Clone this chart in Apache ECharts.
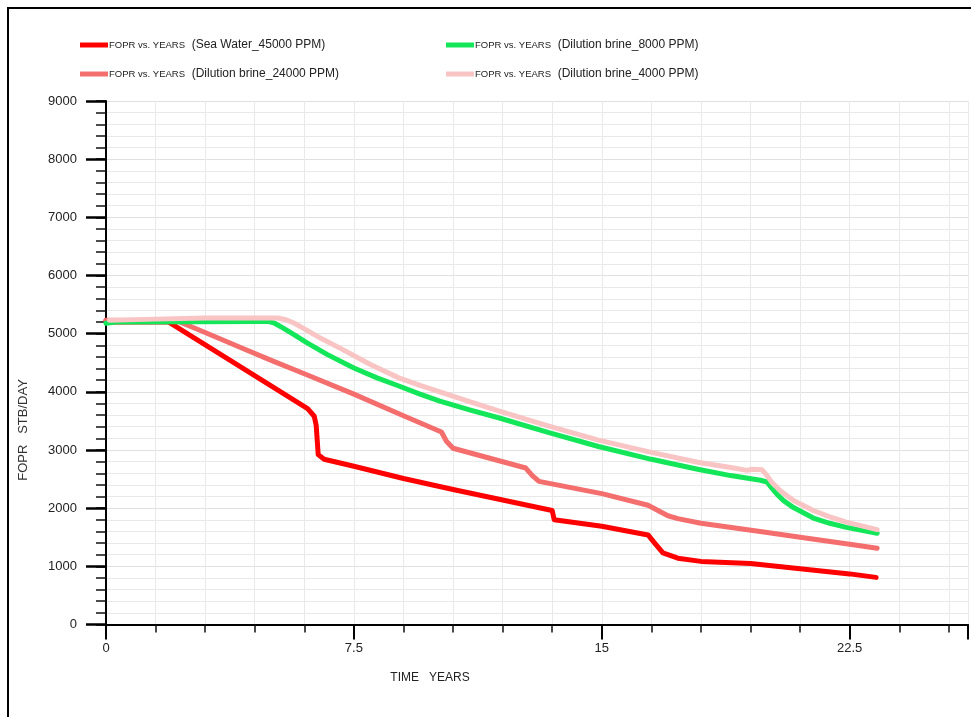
<!DOCTYPE html>
<html>
<head>
<meta charset="utf-8">
<script src="https://cdn.jsdelivr.net/npm/echarts@6/dist/echarts.min.js"></script>
<style>
  html, body { margin: 0; padding: 0; background: #ffffff; }
  #chart { width: 971px; height: 717px; }
</style>
</head>
<body>
<div id="chart"></div>
<script>
// FOPR (field oil production rate, STB/DAY) against time in years, one line per injected brine.
const seriesNames = [
  'FOPR vs. YEARS  (Sea Water_45000 PPM)',
  'FOPR vs. YEARS  (Dilution brine_24000 PPM)',
  'FOPR vs. YEARS  (Dilution brine_8000 PPM)',
  'FOPR vs. YEARS  (Dilution brine_4000 PPM)'
];

// [years, STB/DAY]
const seaWater45000 = [
  [0, 5230], [0.15, 5200], [1.9, 5200], [6.1, 3710], [6.3, 3580], [6.36, 3420],
  [6.42, 2920], [6.6, 2840], [7.5, 2720], [9, 2510], [10.5, 2320], [12, 2140],
  [13.5, 1960], [13.56, 1800], [15, 1690], [16.4, 1540], [16.6, 1400], [16.85, 1230],
  [17.3, 1140], [18, 1085], [19.5, 1050], [21, 960], [22.5, 870], [23.3, 810]
];
const brine24000 = [
  [0, 5230], [2.2, 5210], [3, 5020], [4, 4780], [5, 4540], [6, 4310], [7.5, 3960],
  [9, 3590], [10.15, 3310], [10.3, 3150], [10.5, 3030], [12.7, 2690], [12.9, 2560],
  [13.1, 2460], [15, 2250], [16.4, 2050], [16.7, 1960], [17.0, 1870], [17.3, 1820],
  [18, 1740], [19.9, 1590], [21, 1500], [22.5, 1380], [23.33, 1310]
];
const brine8000 = [
  [0, 5180], [0.3, 5200], [4.9, 5210], [5.1, 5180], [5.35, 5100], [5.7, 4980],
  [6.06, 4850], [6.7, 4640], [7.5, 4410], [8.2, 4240], [8.86, 4100], [9.5, 3960],
  [10.1, 3840], [11, 3690], [11.9, 3550], [13.4, 3300], [14.9, 3060], [16.5, 2840],
  [17.9, 2670], [18.9, 2560], [19.8, 2480], [20.0, 2450], [20.15, 2340], [20.3, 2240],
  [20.5, 2130], [20.8, 2010], [21.4, 1830], [21.9, 1740], [22.4, 1670], [23.33, 1570]
];
const brine4000 = [
  [0.1, 5230], [1.5, 5250], [3, 5270], [5.2, 5270], [5.45, 5240], [5.7, 5180],
  [5.95, 5100], [6.5, 4920], [7.05, 4760], [8, 4470], [8.86, 4240], [9.5, 4110],
  [10.1, 4000], [11, 3830], [11.9, 3670], [13.4, 3410], [14.9, 3170], [16.5, 2960],
  [17.9, 2790], [18.9, 2700], [19.4, 2650], [19.55, 2670], [19.85, 2660], [20.0, 2560],
  [20.15, 2440], [20.4, 2300], [20.8, 2130], [21.4, 1960], [21.9, 1850], [22.4, 1760],
  [23.33, 1630]
];

const xMajorTicks = [0, 7.5, 15, 22.5];

const colors = ['#ff0000', '#f56e6e', '#14e65a', '#f9c4c4'];
const dataSets = [seaWater45000, brine24000, brine8000, brine4000];

const chart = echarts.init(document.getElementById('chart'), null, { renderer: 'canvas' });

const legendRich = {
  a: { fontFamily: 'Liberation Sans, Arial', fontSize: 9.5, color: '#222' },
  b: { fontFamily: 'Liberation Sans, Arial', fontSize: 12, color: '#222' }
};
const legendFormatter = function (name) {
  const i = name.indexOf('(');
  return '{a|' + name.slice(0, i).trim() + '}  {b|' + name.slice(i) + '}';
};
function legendBlock(left, names) {
  return {
    left: left, top: 39, orient: 'vertical', itemGap: 17, padding: 0,
    itemWidth: 28, itemHeight: 5, icon: 'rect',
    data: names, selectedMode: false,
    formatter: legendFormatter,
    textStyle: { rich: legendRich, padding: [0, 0, 0, -4] }
  };
}

const option = {
  backgroundColor: '#ffffff',
  animation: false,
  grid: { left: 106, top: 101, right: 0, bottom: 92.5, containLabel: false },
  legend: [
    legendBlock(80, [seriesNames[0], seriesNames[1]]),
    legendBlock(446, [seriesNames[2], seriesNames[3]])
  ],
  xAxis: [
    {
      type: 'value', min: 0, max: 26.08, interval: 1.5, position: 'bottom',
      axisLine: { show: true, onZero: false, lineStyle: { color: '#000', width: 2 } },
      axisTick: { show: true, length: 8, lineStyle: { color: '#111', width: 1.5 } },
      axisLabel: { show: false },
      splitLine: { show: true, lineStyle: { color: '#e9e9e9', width: 1 } }
    },
    {
      type: 'value', min: 0, max: 26.08, interval: 7.5, position: 'bottom',
      axisLine: { show: false },
      axisTick: { show: true, length: 15, lineStyle: { color: '#000', width: 2 } },
      axisLabel: {
        show: true, margin: 17, color: '#222',
        fontFamily: 'Liberation Sans, Arial', fontSize: 13,
        formatter: function (v) { return xMajorTicks.indexOf(v) >= 0 ? String(v) : ''; }
      },
      splitLine: { show: false }
    }
  ],
  yAxis: [
    {
      type: 'value', min: 0, max: 9000, interval: 200, position: 'left',
      axisLine: { show: true, onZero: false, lineStyle: { color: '#000', width: 2 } },
      axisTick: { show: true, length: 10, lineStyle: { color: '#111', width: 1.5 } },
      axisLabel: { show: false },
      splitLine: { show: true, lineStyle: { color: '#e9e9e9', width: 1 } }
    },
    {
      type: 'value', min: 0, max: 9000, interval: 1000, position: 'left',
      axisLine: { show: false },
      axisTick: { show: true, length: 20, lineStyle: { color: '#000', width: 2.5 } },
      axisLabel: {
        show: true, margin: 29, color: '#222',
        fontFamily: 'Liberation Sans, Arial', fontSize: 13,
        formatter: function (v) { return String(v); }
      },
      splitLine: { show: true, lineStyle: { color: '#e0e0e0', width: 1.2 } }
    }
  ],
  series: dataSets.map(function (d, i) {
    return {
      name: seriesNames[i], type: 'line', data: d,
      xAxisIndex: 0, yAxisIndex: 0,
      showSymbol: false, smooth: false,
      color: colors[i],
      lineStyle: { color: colors[i], width: 5, join: 'round', cap: 'round' },
      z: 2 + i
    };
  }),
  graphic: [
    // outer frame (top and left edges)
    { type: 'polyline', silent: true, shape: { points: [[8, 717], [8, 8], [971, 8]] },
      style: { stroke: '#000', lineWidth: 2, fill: null } },
    { type: 'text', silent: true, x: 23, y: 430, rotation: Math.PI / 2,
      style: { text: 'FOPR   STB/DAY', fill: '#333', font: '13px "Liberation Sans", Arial',
               textAlign: 'center', textVerticalAlign: 'middle' } },
    { type: 'text', silent: true, x: 430, y: 678,
      style: { text: 'TIME   YEARS', fill: '#222',
               font: '12px "Liberation Sans", Arial',
               textAlign: 'center', textVerticalAlign: 'middle' } }
  ]
};

chart.setOption(option);
</script>
</body>
</html>
